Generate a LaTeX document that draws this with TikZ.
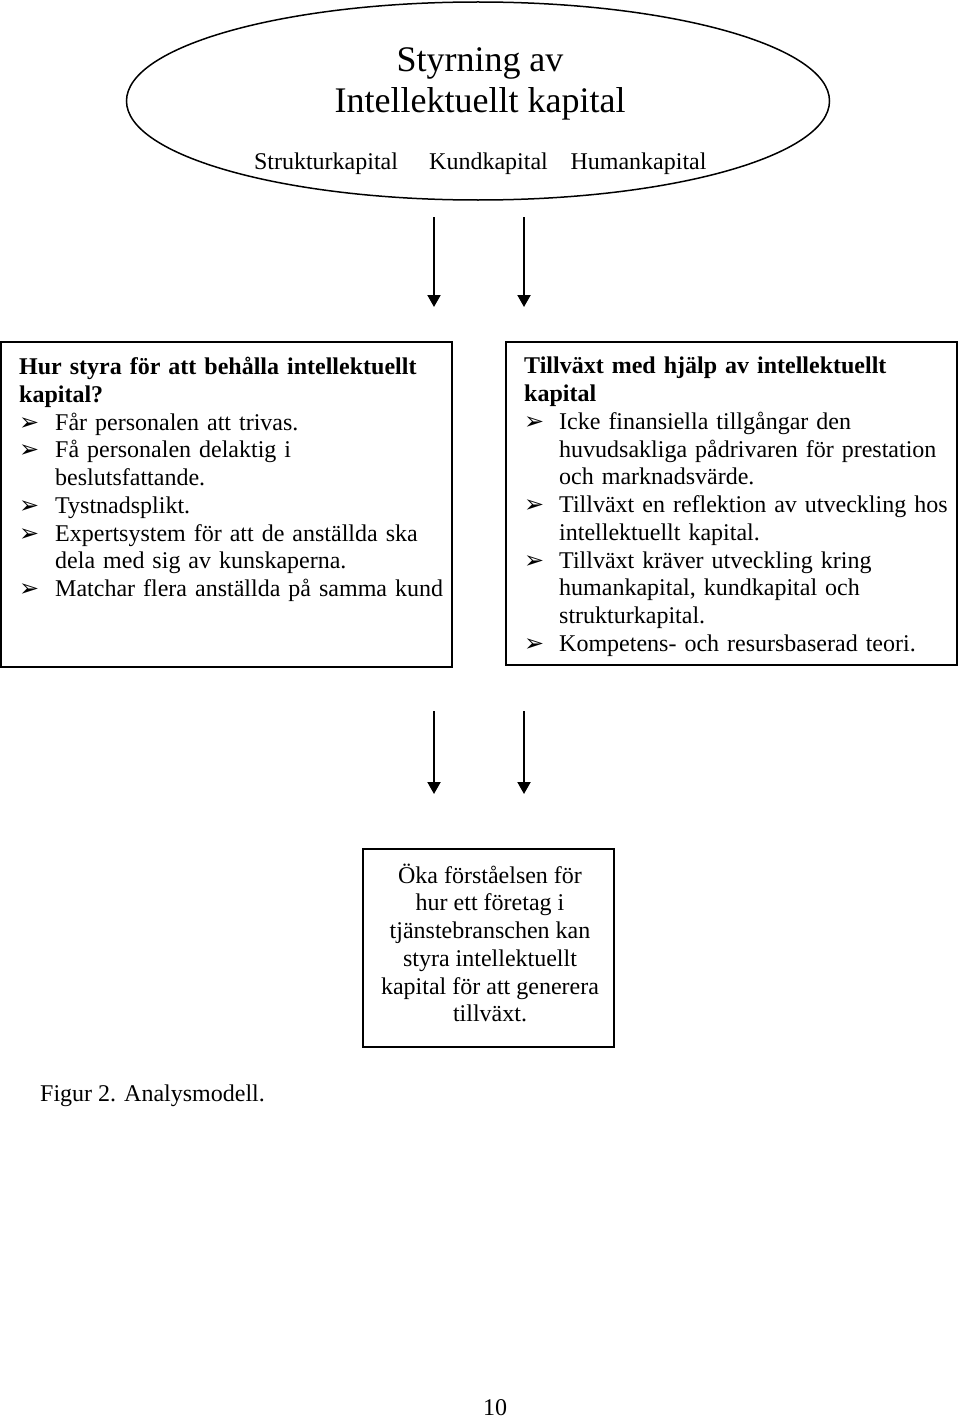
\documentclass[tikz,border=0pt]{standalone}
\usepackage{fontspec}
\setmainfont{Liberation Serif}
\newfontfamily\dejavu{DejaVu Sans}
\usetikzlibrary{shapes.geometric,arrows.meta}
\newcommand\bul{{\dejavu ➢}}
\newcommand\bitem[2][36pt]{\par\hangindent=#1\hangafter=1\noindent\makebox[#1][l]{\bul}#2}
\tikzset{
  body/.style={font=\fontsize{24}{27.75}\selectfont},
  boxstyle/.style={draw, line width=2pt, inner sep=0pt},
  txt/.style={body, inner sep=0pt, anchor=north west, text width=430pt, align=left},
  arr/.style={line width=2pt, -{Triangle[width=13pt,length=12pt]}}
}
\begin{document}
\begin{tikzpicture}[x=1pt,y=-1pt]
\useasboundingbox (0,0) rectangle (960,1418);
% ellipse
\node[ellipse, draw, line width=1.5pt, minimum width=703pt, minimum height=198pt, inner sep=0pt] (ell) at (478,101) {};
\node[font=\fontsize{36}{41.5}\selectfont, align=center, inner sep=0pt] (title) at (480,84) {Styrning av\\Intellektuellt kapital};
\node[body, inner sep=0pt, anchor=base] (sk) at (326,169) {Strukturkapital};
\node[body, inner sep=0pt, anchor=base] (kk) at (488.5,169) {Kundkapital};
\node[body, inner sep=0pt, anchor=base] (hk) at (638.5,169) {Humankapital};
% arrows top
\coordinate (a1s) at (434,217); \coordinate (a1e) at (434,307);
\coordinate (a2s) at (524,217); \coordinate (a2e) at (524,307);
\draw[arr] (a1s) -- (a1e);
\draw[arr] (a2s) -- (a2e);
% boxes
\node[boxstyle, minimum width=451pt, minimum height=325pt] (lbox) at (226.5,504.5) {};
\node[boxstyle, minimum width=451pt, minimum height=323pt] (rbox) at (731.5,503.5) {};
\node[txt] (ltext) at (19,357) {\textbf{Hur styra för att behålla intellektuellt\newline kapital?}
\bitem{Får personalen att trivas.}
\bitem{Få personalen delaktig i\newline beslutsfattande.}
\bitem{Tystnadsplikt.}
\bitem{Expertsystem för att de anställda ska\newline dela med sig av kunskaperna.}
\bitem{Matchar flera anställda på samma kund}};
\node[txt] (rtext) at (524,357) {\textbf{Tillväxt med hjälp av intellektuellt\newline kapital}
\bitem[35pt]{Icke finansiella tillgångar den\newline huvudsakliga pådrivaren för prestation\newline och marknadsvärde.}
\bitem[35pt]{Tillväxt en reflektion av utveckling hos\newline intellektuellt kapital.}
\bitem[35pt]{Tillväxt kräver utveckling kring\newline humankapital, kundkapital och\newline strukturkapital.}
\bitem[35pt]{Kompetens- och resursbaserad teori.}};
% arrows middle
\coordinate (b1s) at (434,711); \coordinate (b1e) at (434,794);
\coordinate (b2s) at (524,711); \coordinate (b2e) at (524,794);
\draw[arr] (b1s) -- (b1e);
\draw[arr] (b2s) -- (b2e);
% bottom box
\node[boxstyle, minimum width=251pt, minimum height=198pt] (bbox) at (488.5,948) {};
\node[body, inner sep=0pt, align=center] (btext) at (490,943) {Öka förståelsen för\\hur ett företag i\\tjänstebranschen kan\\styra intellektuellt\\kapital för att generera\\tillväxt.};
% caption and page number
\node[body, inner sep=0pt, anchor=base west] (cap) at (40,1101) {Figur 2. Analysmodell.};
\node[body, inner sep=0pt, anchor=base] (page) at (495,1415) {10};
\end{tikzpicture}
\end{document}
